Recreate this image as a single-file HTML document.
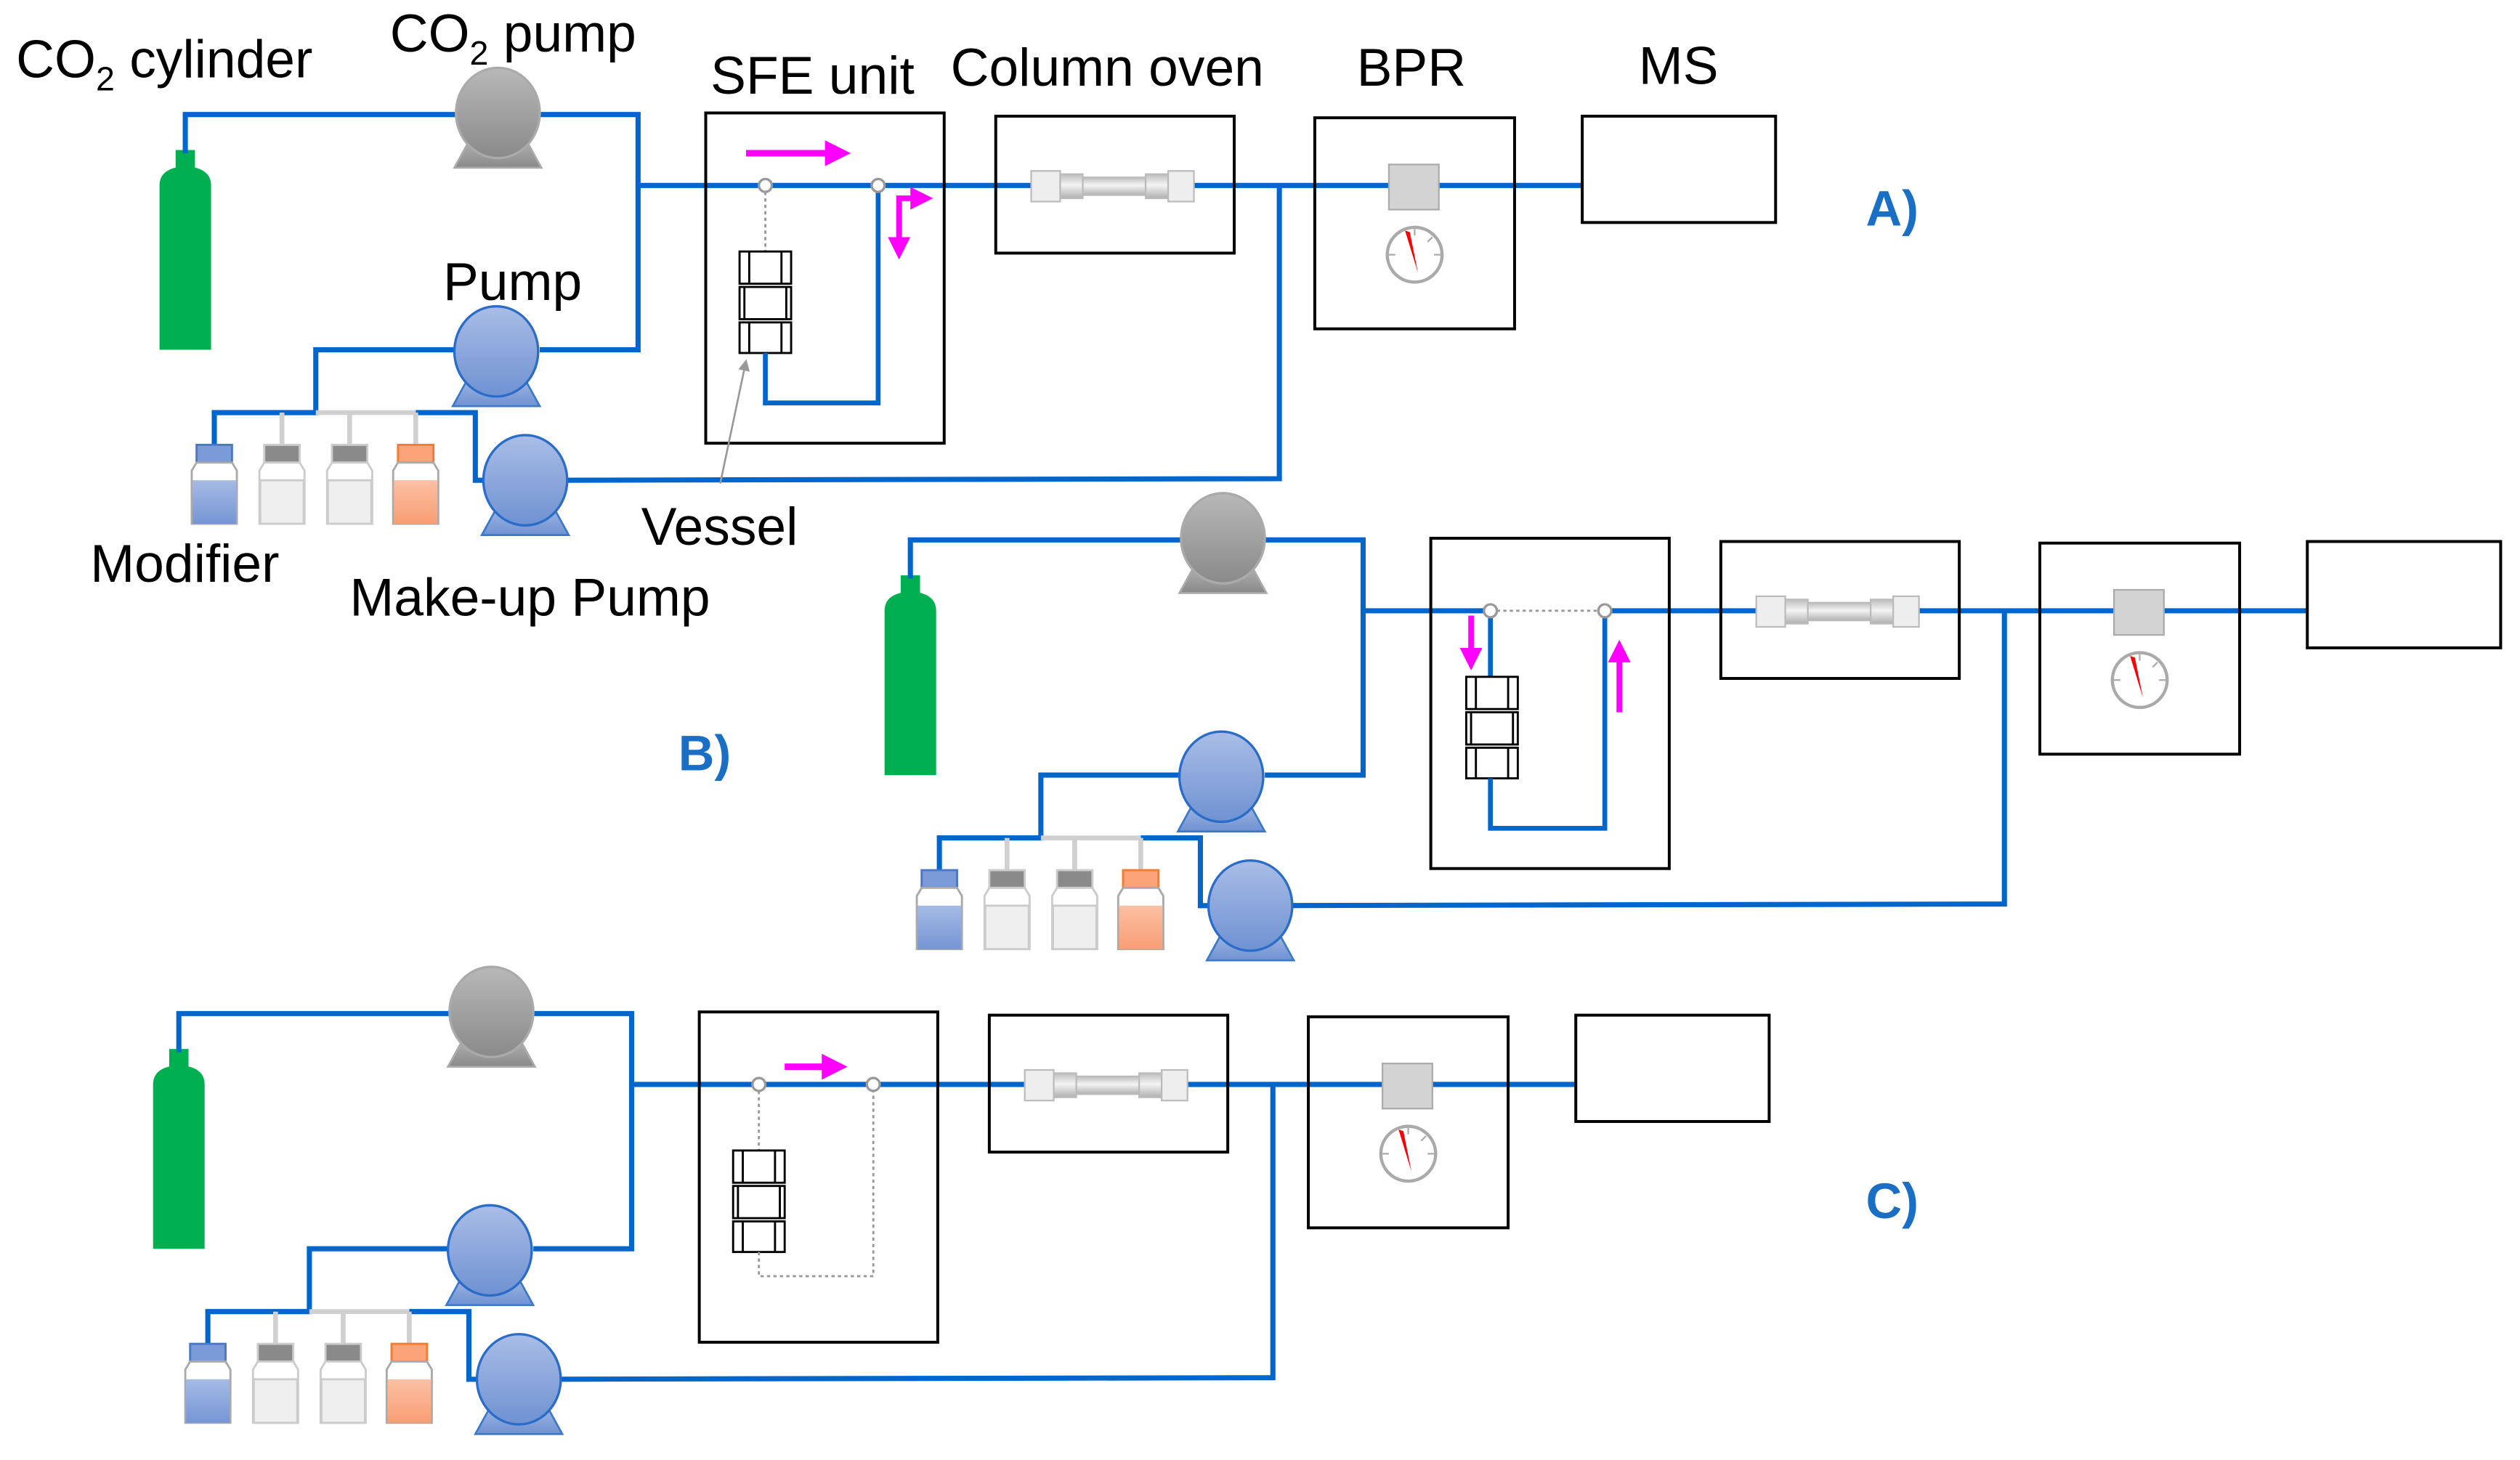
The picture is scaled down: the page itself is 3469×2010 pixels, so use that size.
<!DOCTYPE html>
<html><head><meta charset="utf-8"><style>
html,body{margin:0;padding:0;background:#fff;}
svg{display:block;}
text{font-family:"Liberation Sans",Arial,sans-serif;}
</style></head><body>
<svg width="3469" height="2010" viewBox="0 0 1564 906" xmlns="http://www.w3.org/2000/svg">
<defs>
<linearGradient id="gp" x1="0" y1="0" x2="0" y2="1"><stop offset="0" stop-color="#b8b8b8"/><stop offset="1" stop-color="#8a8a8a"/></linearGradient>
<linearGradient id="bp" x1="0" y1="0" x2="0" y2="1"><stop offset="0" stop-color="#a9bde6"/><stop offset="1" stop-color="#6f92d2"/></linearGradient>
<linearGradient id="col" x1="0" y1="0" x2="0" y2="1"><stop offset="0" stop-color="#bdbdbd"/><stop offset="0.45" stop-color="#f4f4f4"/><stop offset="1" stop-color="#b0b0b0"/></linearGradient>
<linearGradient id="bf" x1="0" y1="0" x2="0" y2="1"><stop offset="0" stop-color="#a6bbe6"/><stop offset="1" stop-color="#7595d4"/></linearGradient>
<linearGradient id="of" x1="0" y1="0" x2="0" y2="1"><stop offset="0" stop-color="#fcc0a4"/><stop offset="1" stop-color="#f99e74"/></linearGradient>
<marker id="mh" markerWidth="4" markerHeight="4" refX="2" refY="2" orient="auto" markerUnits="strokeWidth"><path d="M0,0 L4,2 L0,4 z" fill="#ff00ff"/></marker>
<marker id="gh" markerWidth="6" markerHeight="6" refX="5" refY="3" orient="auto"><path d="M0,0 L6,3 L0,6 z" fill="#999"/></marker>
<g id="bpump"><path d="M-16,14 L16,14 L27,34 L-27,34 z" fill="url(#bp)" stroke="#3a78c8" stroke-width="1.2"/><ellipse cx="0" cy="0" rx="26" ry="28" fill="url(#bp)" stroke="#2a6cc8" stroke-width="1.5"/></g>
<g id="gpump"><path d="M-16,14 L16,14 L27,34 L-27,34 z" fill="url(#gp)" stroke="#aaa" stroke-width="1.2"/><ellipse cx="0" cy="0" rx="26" ry="28" fill="url(#gp)" stroke="#aaa" stroke-width="1.5"/></g>
<g id="vessel" fill="#fff" stroke="#000" stroke-width="1.3">
<rect x="-16" y="0" width="32" height="20"/><line x1="-10" y1="0" x2="-10" y2="20"/><line x1="10" y1="0" x2="10" y2="20"/>
<rect x="-16" y="22" width="32" height="20"/><line x1="-13" y1="22" x2="-13" y2="42"/><line x1="13" y1="22" x2="13" y2="42"/>
<rect x="-16" y="44" width="32" height="19"/><line x1="-10" y1="44" x2="-10" y2="63"/><line x1="10" y1="44" x2="10" y2="63"/>
</g>
<g id="common">
<rect x="109" y="93" width="12" height="14" fill="#00b050"/>
<path d="M99,217 L99,115 Q99,104 115,103 Q131,104 131,115 L131,217 z" fill="#00b050"/>
<g fill="none" stroke="#0066cc" stroke-width="3.2">
<polyline points="115,95 115,71 396,71 396,217 335,217"/>
<line x1="396" y1="115" x2="982" y2="115"/>
<polyline points="282,217 196,217 196,256 133,256 133,277"/>
<polyline points="258,256 295,256 295,298 330,298"/>
<polyline points="330,298 794,297 794,115"/>
</g>
<g stroke="#d0d0d0" stroke-width="3"><line x1="196" y1="256" x2="258" y2="256"/><line x1="175" y1="256" x2="175" y2="277"/><line x1="217" y1="256" x2="217" y2="277"/><line x1="258" y1="256" x2="258" y2="277"/></g>
<use href="#gpump" x="309" y="70"/>
<use href="#bpump" x="308" y="218"/>
<use href="#bpump" x="326" y="298"/>
<g stroke-width="1.3">
<rect x="122" y="276" width="22" height="11" fill="#7a9ad8" stroke="#4a78c8"/>
<path d="M122,287 L119,292 L119,325 L147,325 L147,292 L144,287 z" fill="#fff" stroke="#aaa"/><rect x="119.5" y="298" width="27" height="27" fill="url(#bf)"/>
<rect x="164" y="276" width="22" height="11" fill="#8a8a8a" stroke="#ccc"/>
<path d="M164,287 L161,292 L161,325 L189,325 L189,292 L186,287 z" fill="#fff" stroke="#ccc"/><rect x="161.5" y="298" width="27" height="27" fill="#efefef" stroke="#ccc"/>
<rect x="206" y="276" width="22" height="11" fill="#8a8a8a" stroke="#ccc"/>
<path d="M206,287 L203,292 L203,325 L231,325 L231,292 L228,287 z" fill="#fff" stroke="#ccc"/><rect x="203.5" y="298" width="27" height="27" fill="#efefef" stroke="#ccc"/>
<rect x="247" y="276" width="22" height="11" fill="#fba47a" stroke="#f47b30"/>
<path d="M247,287 L244,292 L244,325 L272,325 L272,292 L269,287 z" fill="#fff" stroke="#aaa"/><rect x="244.5" y="298" width="27" height="27" fill="url(#of)"/>
</g>
<g fill="none" stroke="#000" stroke-width="1.8">
<rect x="438" y="70" width="148" height="205"/>
<rect x="618" y="72" width="148" height="85"/>
<rect x="816" y="73" width="124" height="131"/>
<rect x="982" y="72" width="120" height="66"/>
</g>
<g stroke="#bbb" stroke-width="1">
<rect x="640" y="106" width="18" height="19" fill="#eee"/>
<rect x="658" y="108" width="14" height="15" fill="url(#col)"/>
<rect x="672" y="110" width="45" height="11" fill="url(#col)"/>
<rect x="711" y="108" width="14" height="15" fill="url(#col)"/>
<rect x="725" y="106" width="16" height="19" fill="#eee"/>
</g>
<rect x="862" y="102" width="31" height="28" fill="#d3d3d3" stroke="#aaa" stroke-width="1"/>
<circle cx="878" cy="158" r="17" fill="#fff" stroke="#aaa" stroke-width="2"/>
<g stroke="#aaa" stroke-width="1"><line x1="862" y1="158" x2="866" y2="158"/><line x1="890" y1="158" x2="894" y2="158"/><line x1="878" y1="142" x2="878" y2="146"/><line x1="889" y1="147" x2="886" y2="150"/></g>
<path d="M872,143 L880,169 L875,144 z" fill="#ff0000"/>
</g>
</defs>

<use href="#common"/>
<g>
<line x1="475" y1="119" x2="475" y2="156" stroke="#999" stroke-width="1.3" stroke-dasharray="2,2"/>
<use href="#vessel" x="475" y="156"/>
<polyline points="475,219 475,250 545,250 545,115" fill="none" stroke="#0066cc" stroke-width="3"/>
<circle cx="475" cy="115" r="4" fill="#fff" stroke="#999" stroke-width="1.5"/>
<circle cx="545" cy="115" r="4" fill="#fff" stroke="#999" stroke-width="1.5"/>
<line x1="463" y1="95" x2="520" y2="95" stroke="#ff00ff" stroke-width="4" marker-end="url(#mh)"/>
<polyline points="558,152 558,123 572,123" fill="none" stroke="#ff00ff" stroke-width="3.5" marker-end="url(#mh)"/>
<line x1="558" y1="130" x2="558" y2="154" stroke="#ff00ff" stroke-width="3.5" marker-end="url(#mh)"/>
<line x1="447" y1="300" x2="463" y2="224" stroke="#999" stroke-width="1.2" marker-end="url(#gh)"/>
</g>

<g transform="translate(450,264)">
<use href="#common"/>
<line x1="475" y1="115" x2="546" y2="115" stroke="#fff" stroke-width="5"/>
<line x1="475" y1="115" x2="546" y2="115" stroke="#999" stroke-width="1.3" stroke-dasharray="2,2"/>
<line x1="475" y1="115" x2="475" y2="156" stroke="#0066cc" stroke-width="3"/>
<use href="#vessel" x="476" y="156"/>
<polyline points="475,219 475,250 546,250 546,115" fill="none" stroke="#0066cc" stroke-width="3"/>
<circle cx="475" cy="115" r="4" fill="#fff" stroke="#999" stroke-width="1.5"/>
<circle cx="546" cy="115" r="4" fill="#fff" stroke="#999" stroke-width="1.5"/>
<line x1="463" y1="118" x2="463" y2="145" stroke="#ff00ff" stroke-width="3.5" marker-end="url(#mh)"/>
<line x1="555" y1="178" x2="555" y2="140" stroke="#ff00ff" stroke-width="3.5" marker-end="url(#mh)"/>
</g>

<g transform="translate(-4,558)">
<use href="#common"/>
<line x1="475" y1="119" x2="475" y2="156" stroke="#999" stroke-width="1.3" stroke-dasharray="2,2"/>
<use href="#vessel" x="475" y="156"/>
<polyline points="475,219 475,234 546,234 546,119" fill="none" stroke="#999" stroke-width="1.3" stroke-dasharray="2,2"/>
<circle cx="475" cy="115" r="4" fill="#fff" stroke="#999" stroke-width="1.5"/>
<circle cx="546" cy="115" r="4" fill="#fff" stroke="#999" stroke-width="1.5"/>
<line x1="491" y1="104" x2="522" y2="104" stroke="#ff00ff" stroke-width="4" marker-end="url(#mh)"/>
</g>

<g font-size="33" fill="#000">
<text x="10" y="48">CO<tspan font-size="21" dy="8">2</tspan><tspan dy="-8"> cylinder</tspan></text>
<text x="242" y="32">CO<tspan font-size="21" dy="8">2</tspan><tspan dy="-8"> pump</tspan></text>
<text x="441" y="58">SFE unit</text>
<text x="590" y="53">Column oven</text>
<text x="842" y="53">BPR</text>
<text x="1017" y="52">MS</text>
<text x="275" y="186">Pump</text>
<text x="56" y="361">Modifier</text>
<text x="217" y="382">Make-up Pump</text>
<text x="398" y="338">Vessel</text>
</g>
<g font-size="31" font-weight="bold" fill="#1a6fc4">
<text x="1158" y="140">A)</text>
<text x="421" y="478">B)</text>
<text x="1158" y="756">C)</text>
</g>
</svg>
</body></html>
